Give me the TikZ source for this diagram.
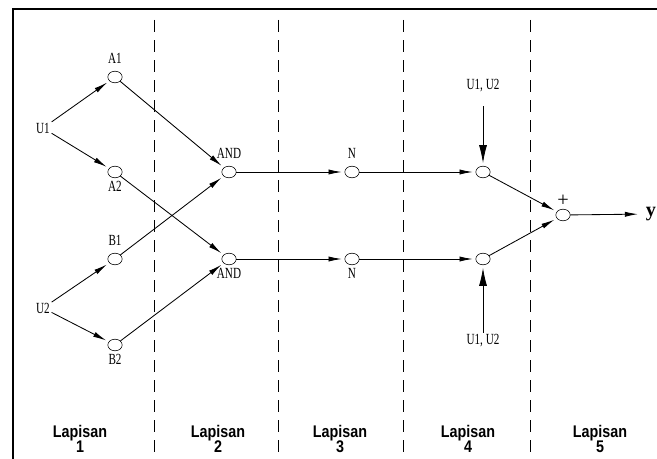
\documentclass[tikz,border=0pt]{standalone}
\usepackage{fontspec}
\setmainfont{Liberation Serif}
\newfontfamily\lblfont[FakeStretch=0.72]{Liberation Serif}
\newfontfamily\layfont[FakeStretch=0.85]{Liberation Sans}
\usetikzlibrary{arrows.meta,shapes.geometric}

\begin{document}
\begin{tikzpicture}[x=0.025cm,y=-0.025cm,>={Latex[length=0.33cm,width=0.13cm]},
  semithick,
  nd/.style={ellipse,draw,thin,minimum width=0.36cm,minimum height=0.29cm,inner sep=0pt},
  lb/.style={font=\lblfont\fontsize{11}{13}\selectfont,inner sep=1pt},
  up/.style={label={[lb,label distance=0.13cm]above:#1}},
  dn/.style={label={[lb,label distance=0.03cm]below:#1}},
  lay/.style={font=\layfont\bfseries\fontsize{12}{11}\selectfont,align=center},
  sep/.style={thin,dash pattern=on 0.3cm off 0.2cm},
  conn/.style={->,shorten >=2pt},
  big/.style={-{Latex[length=0.45cm,width=0.2cm]},shorten >=2pt}]
\useasboundingbox (0,0) rectangle (657,459);
% frame and layer borders
\draw[line width=2pt] (13,459) -- (13,9) -- (657,9);
\foreach \x in {154,278,403,530}
  \draw[sep] (\x,20) -- (\x,459);
% layer 1
\node[lb] (u1) at (43,128) {U1};
\node[lb] (u2) at (43,308) {U2};
\node[nd,up=A1] (a1) at (115,77) {};
\node[nd,dn=A2] (a2) at (115,172) {};
\node[nd,up=B1] (b1) at (115,259) {};
\node[nd,dn=B2] (b2) at (115,345) {};
% layers 2 and 3
\node[nd,up=AND] (and1) at (229,172) {};
\node[nd,dn=AND] (and2) at (229,259) {};
\node[nd,up=N] (n1) at (352,172) {};
\node[nd,dn=N] (n2) at (352,259) {};
% layers 4 and 5
\node[nd] (p1) at (483,172) {};
\node[nd] (p2) at (483,259) {};
\node[lb] (c1) at (483,86) {U1, U2};
\node[lb] (c2) at (483,341) {U1, U2};
\node[nd,label={[font=\Large,label distance=-2pt]above:+}] (sum) at (563,215) {};
\node[font=\Large\bfseries] (y) at (651,214) {y};
\draw[conn] (u1) -- (a1);
\draw[conn] (u1) -- (a2);
\draw[conn] (u2) -- (b1);
\draw[conn] (u2) -- (b2);
\draw[conn] (a1) -- (and1);
\draw[conn] (a2) -- (and2);
\draw[conn] (b1) -- (and1);
\draw[conn] (b2) -- (and2);
\draw[conn] (and1) -- (n1);
\draw[conn] (and2) -- (n2);
\draw[conn] (n1) -- (p1);
\draw[conn] (n2) -- (p2);
\draw[conn] (p1) -- (sum);
\draw[conn] (p2) -- (sum);
\draw[conn] (sum) -- (y);
\draw[big,shorten <=0.3cm] (c1) -- (p1);
\draw[big] (c2) -- (p2);
% layer names
\node[lay] (l1) at (80,439) {Lapisan\\1};
\node[lay] (l2) at (218,439) {Lapisan\\2};
\node[lay] (l3) at (340,439) {Lapisan\\3};
\node[lay] (l4) at (468,439) {Lapisan\\4};
\node[lay] (l5) at (600,439) {Lapisan\\5};
\end{tikzpicture}
\end{document}
